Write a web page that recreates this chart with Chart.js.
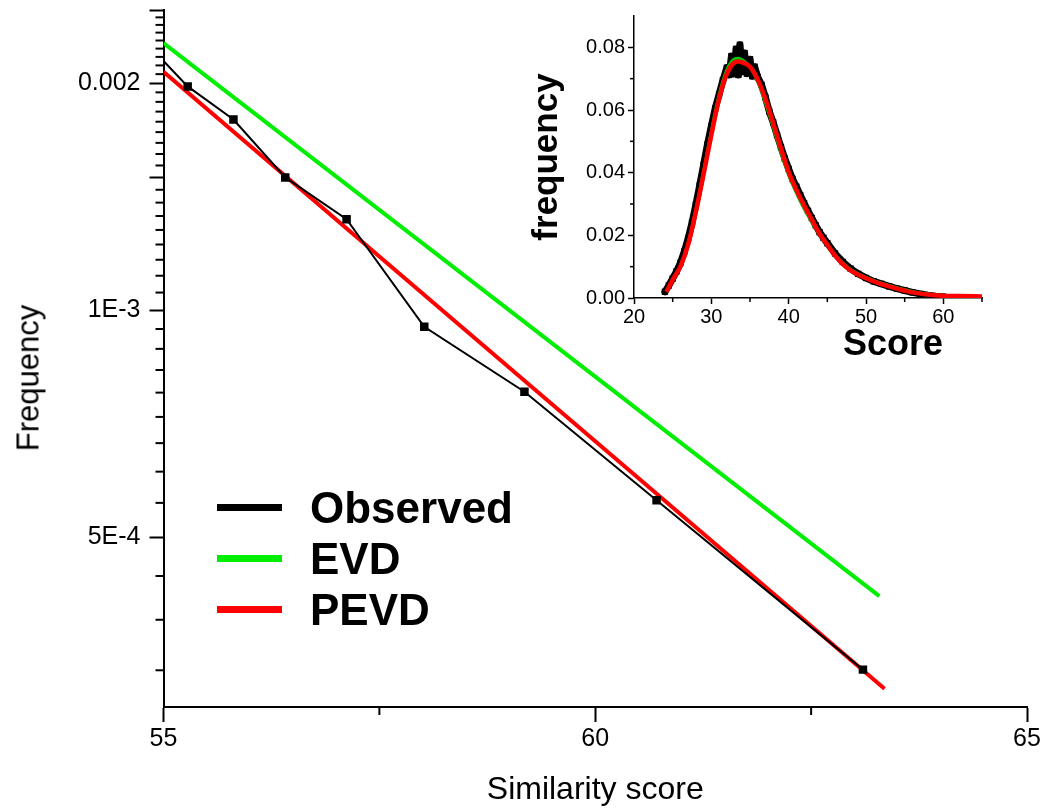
<!DOCTYPE html>
<html>
<head>
<meta charset="utf-8">
<script src="https://cdn.jsdelivr.net/npm/chart.js@4.4.1/dist/chart.umd.min.js"></script>
<style>
  body { margin: 0; background: #fff; font-family: "Liberation Sans", Arial, sans-serif; }
  #wrap { position: relative; width: 1040px; height: 812px; }
  .box { position: absolute; }
  .lbl { position: absolute; color: #000; line-height: 1; white-space: nowrap; transform: translate(-50%, -50%); }
  #legend { position: absolute; left: 217px; top: 482px; }
  #legend .row { display: flex; align-items: center; height: 51px; }
  #legend .swatch { width: 65px; height: 7px; margin-right: 28px; }
  #legend .txt { font-weight: bold; font-size: 44px; }
</style>
</head>
<body>
<div id="wrap">
  <div class="box" style="left:0;top:0;width:1040px;height:812px"><canvas id="main"></canvas></div>
  <div class="box" style="left:520px;top:0;width:520px;height:370px"><canvas id="inset"></canvas></div>
  <div class="lbl" style="left:28px;top:378px;font-size:31px;transform:translate(-50%,-50%) rotate(-90deg)">Frequency</div>
  <div class="lbl" style="left:893px;top:343px;font-size:36px;font-weight:bold">Score</div>
  <div id="legend"></div>
</div>
<script>
// main plot: tail of the distribution (log scale)
const obsScore = [55, 55.28, 55.81, 56.41, 57.12, 58.02, 59.18, 60.71, 63.10];
const obsFreq = [0.00214, 0.00198, 0.00179, 0.00150, 0.00132, 0.000951, 0.00078, 0.00056, 0.000334];
const evdScore = [55, 63.29];
const evdFreq = [0.00226, 0.000418];
const pevdScore = [55, 63.35];
const pevdFreq = [0.00207, 0.000315];

const xMajor = [55, 60, 65];
const xMinor = [57.5, 62.5];
const yMajor = [0.0005, 0.001, 0.0015, 0.002, 0.0025];
const yLabelValues = [0.002, 0.001, 0.0005];
const yLabelTexts = ['0.002', '1E-3', '5E-4'];

// inset: whole distribution
const insObsScore = [24, 24.5, 25, 25.5, 26, 26.5, 27, 27.5, 28, 28.5, 29, 29.5, 30, 30.5, 31, 31.5, 32, 32.3, 32.6, 32.9, 33.2, 33.5, 33.7, 34, 34.3, 34.6, 35, 35.3, 35.6, 36, 36.5, 37, 37.5, 38, 38.5, 39, 39.5, 40, 40.5, 41, 41.5, 42, 42.5, 43, 43.5, 44, 44.5, 45, 46, 47, 48, 49, 50, 51, 52, 53, 54, 55, 56, 57, 58, 59, 60];
const insObsFreq = [0.0020, 0.0040, 0.0062, 0.0085, 0.0112, 0.0148, 0.0190, 0.0240, 0.0298, 0.0360, 0.0425, 0.0490, 0.0548, 0.0605, 0.0650, 0.0695, 0.0735, 0.0712, 0.0772, 0.0715, 0.0795, 0.0712, 0.0808, 0.0722, 0.0782, 0.0716, 0.0762, 0.0708, 0.0738, 0.0705, 0.0680, 0.0640, 0.0595, 0.0560, 0.0520, 0.0482, 0.0445, 0.0412, 0.0380, 0.0355, 0.0328, 0.0302, 0.0278, 0.0255, 0.0232, 0.0210, 0.0192, 0.0175, 0.0142, 0.0115, 0.0094, 0.0077, 0.0064, 0.0053, 0.0045, 0.0037, 0.0030, 0.0024, 0.0018, 0.0013, 0.0009, 0.0006, 0.0004];
const insEvdScore = [24.2, 25, 26, 27, 28, 29, 30, 31, 32, 33, 33.5, 34, 35, 36, 37, 38, 39, 40, 41, 42, 43, 44, 45, 46, 47, 48, 49, 50, 52, 54, 56, 58, 60, 62, 64];
const insEvdFreq = [0.0020, 0.0058, 0.0102, 0.0175, 0.0282, 0.0405, 0.0532, 0.0648, 0.0728, 0.0763, 0.0765, 0.0760, 0.0738, 0.0690, 0.0622, 0.0545, 0.0465, 0.0392, 0.0335, 0.0285, 0.0242, 0.0202, 0.0168, 0.0138, 0.0112, 0.0092, 0.0077, 0.0066, 0.0047, 0.0033, 0.0021, 0.0013, 0.0009, 0.0007, 0.0006];
const insPevdScore = [24.2, 25, 26, 27, 28, 29, 30, 31, 32, 33, 33.5, 34, 35, 36, 37, 38, 39, 40, 41, 42, 43, 44, 45, 46, 47, 48, 49, 50, 52, 54, 56, 58, 60, 62, 65];
const insPevdFreq = [0.0020, 0.0058, 0.0100, 0.0170, 0.0275, 0.0395, 0.0520, 0.0635, 0.0715, 0.0752, 0.0755, 0.0752, 0.0738, 0.0697, 0.0635, 0.0558, 0.0478, 0.0402, 0.0345, 0.0295, 0.0250, 0.0205, 0.0170, 0.0135, 0.0108, 0.0088, 0.0074, 0.0063, 0.0044, 0.0030, 0.0018, 0.0011, 0.0007, 0.0006, 0.0005];

const insXMajor = [20, 30, 40, 50, 60];
const insXMinor = [25, 35, 45, 55, 65];
const insYMajor = [0, 0.02, 0.04, 0.06, 0.08];
const insYMinor = [0.01, 0.03, 0.05, 0.07];

const FONT = '"Liberation Sans", Arial, sans-serif';
const toXY = (xs, ys) => xs.map((x, i) => ({ x, y: ys[i] }));

// short ticks between the labelled ones
const minorTicks = {
  id: 'minorTicks',
  afterDraw(chart, args, opts) {
    const ctx = chart.ctx;
    const xs = chart.scales.x, ys = chart.scales.y;
    ctx.save();
    ctx.strokeStyle = '#000';
    ctx.lineWidth = opts.width;
    (opts.x || []).forEach(v => {
      const px = xs.getPixelForValue(v);
      ctx.beginPath(); ctx.moveTo(px, xs.top); ctx.lineTo(px, xs.top + opts.length); ctx.stroke();
    });
    (opts.y || []).forEach(v => {
      const py = ys.getPixelForValue(v);
      ctx.beginPath(); ctx.moveTo(ys.right, py); ctx.lineTo(ys.right - opts.length, py); ctx.stroke();
    });
    ctx.restore();
  }
};

// no extra room for half labels at the axis ends
const noEndPad = s => { s.paddingTop = 0; s.paddingBottom = 0; s.paddingLeft = 0; s.paddingRight = 0; };

// minor y ticks: each major step split in 9, continued below 5E-4
const yMinor = [];
const step = 0.0005 / 9;
for (let i = 0; i < yMajor.length - 1; i++) {
  for (let k = 1; k < 9; k++) yMinor.push(yMajor[i] + k * step);
}
for (let k = 1; k < 4; k++) yMinor.push(0.0005 - k * step);

new Chart(document.getElementById('main'), {
  type: 'line',
  data: {
    datasets: [
      { label: 'PEVD', data: toXY(pevdScore, pevdFreq), borderColor: '#ff0000', borderWidth: 4, pointRadius: 0, order: 1 },
      { label: 'EVD', data: toXY(evdScore, evdFreq), borderColor: '#00ee00', borderWidth: 4, pointRadius: 0, order: 2 },
      { label: 'Observed', data: toXY(obsScore, obsFreq), borderColor: '#000', borderWidth: 2,
        pointStyle: 'rect', pointRadius: c => c.dataIndex === 0 ? 0 : 6, pointBackgroundColor: '#000',
        pointBorderWidth: 0, order: 0 }
    ]
  },
  options: {
    responsive: true,
    maintainAspectRatio: false,
    animation: false,
    layout: { padding: { left: 0, top: 10, right: 13, bottom: 0 } },
    plugins: {
      legend: { display: false },
      tooltip: { enabled: false },
      minorTicks: { x: xMinor, y: yMinor, length: 8, width: 2 }
    },
    scales: {
      x: {
        type: 'linear', min: 55, max: 65,
        afterBuildTicks: s => { s.ticks = xMajor.map(v => ({ value: v })); },
        afterFit: s => { s.height = 105; noEndPad(s); },
        ticks: { color: '#000', font: { family: FONT, size: 25 }, padding: 2, callback: v => String(v) },
        grid: { drawOnChartArea: false, tickLength: 15, tickColor: '#000', tickWidth: 2 },
        border: { color: '#000', width: 2 },
        title: { display: true, text: 'Similarity score', color: '#000', font: { family: FONT, size: 32 }, padding: { top: 0, bottom: 3 } }
      },
      y: {
        type: 'logarithmic', min: 0.000298, max: 0.0025,
        afterBuildTicks: s => { s.ticks = yMajor.map(v => ({ value: v })); },
        afterFit: s => { s.width = 163.5; noEndPad(s); },
        ticks: {
          color: '#000', font: { family: FONT, size: 25 }, padding: 9,
          callback: v => {
            const i = yLabelValues.findIndex(l => Math.abs(l - v) < 1e-9);
            return i >= 0 ? yLabelTexts[i] : '';
          }
        },
        grid: { drawOnChartArea: false, tickLength: 14, tickColor: '#000', tickWidth: 2 },
        border: { color: '#000', width: 2 }
      }
    }
  },
  plugins: [minorTicks]
});

const legend = document.getElementById('legend');
[['Observed', '#000'], ['EVD', '#00ee00'], ['PEVD', '#ff0000']].forEach(([name, col]) => {
  legend.innerHTML += `<div class="row"><div class="swatch" style="background:${col}"></div><div class="txt">${name}</div></div>`;
});

new Chart(document.getElementById('inset'), {
  type: 'line',
  data: {
    datasets: [
      { label: 'PEVD', data: toXY(insPevdScore, insPevdFreq), borderColor: '#ff0000', borderWidth: 4.5, pointRadius: 0,
        tension: 0.4, cubicInterpolationMode: 'monotone', order: 0 },
      { label: 'EVD', data: toXY(insEvdScore, insEvdFreq), borderColor: '#00cc00', borderWidth: 3, pointRadius: 0,
        tension: 0.4, cubicInterpolationMode: 'monotone', order: 1 },
      { label: 'Observed', data: toXY(insObsScore, insObsFreq), borderColor: '#000', borderWidth: 7,
        borderJoinStyle: 'round', borderCapStyle: 'round',
        pointStyle: 'rect', pointRadius: 4.5, pointBackgroundColor: '#000', pointBorderWidth: 0, order: 2 }
    ]
  },
  options: {
    responsive: true,
    maintainAspectRatio: false,
    animation: false,
    layout: { padding: { left: 0, top: 16, right: 58, bottom: 0 } },
    plugins: {
      legend: { display: false },
      tooltip: { enabled: false },
      minorTicks: { x: insXMinor, y: insYMinor, length: 4, width: 1.5 }
    },
    scales: {
      x: {
        type: 'linear', min: 20, max: 65,
        afterBuildTicks: s => { s.ticks = insXMajor.map(v => ({ value: v })); },
        afterFit: s => { s.height = 72; noEndPad(s); },
        ticks: { color: '#000', font: { family: FONT, size: 20 }, padding: 1, callback: v => String(v) },
        grid: { drawOnChartArea: false, tickLength: 6, tickColor: '#000', tickWidth: 1.5 },
        border: { color: '#000', width: 1.5 }
      },
      y: {
        type: 'linear', min: 0, max: 0.09,
        afterBuildTicks: s => { s.ticks = insYMajor.map(v => ({ value: v })); },
        afterFit: s => { s.width = 114; noEndPad(s); },
        ticks: { color: '#000', font: { family: FONT, size: 20 }, padding: 3, callback: v => v.toFixed(2) },
        grid: { drawOnChartArea: false, tickLength: 6, tickColor: '#000', tickWidth: 1.5 },
        border: { color: '#000', width: 1.5 },
        title: { display: true, text: 'frequency', color: '#000', font: { family: FONT, size: 35, weight: 'bold' }, padding: { top: 6, bottom: 0 } }
      }
    }
  },
  plugins: [minorTicks]
});
</script>
</body>
</html>
